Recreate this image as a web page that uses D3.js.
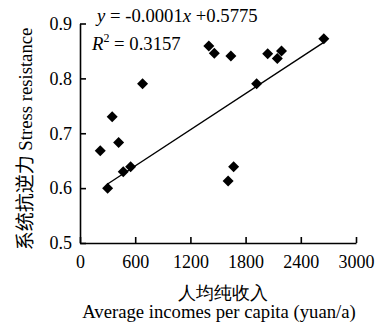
<!DOCTYPE html>
<html><head><meta charset="utf-8">
<script src="https://cdn.jsdelivr.net/npm/d3@7"></script>
<style>body{margin:0;background:#fff}svg{display:block}text{font-family:"Liberation Serif","Times New Roman",serif;fill:#000}</style>
</head><body>
<script>
const incomes = [220, 300, 350, 420, 470, 550, 680, 1400, 1460, 1640, 1610, 1670, 1920, 2040, 2145, 2190, 2650];
const resistance = [0.668, 0.600, 0.730, 0.683, 0.630, 0.639, 0.790, 0.859, 0.846, 0.841, 0.613, 0.639, 0.790, 0.845, 0.836, 0.850, 0.872];
const trendX = [300, 2645];
const trendY = [0.6075, 0.865];
const xTicks = [0, 600, 1200, 1800, 2400, 3000];
const yTicks = [0.5, 0.6, 0.7, 0.8, 0.9];
const r2Text = "0.3157";

const W = 382, H = 327;
const svg = d3.select("body").append("svg").attr("width", W).attr("height", H);
const x = d3.scaleLinear().domain([0, 3000]).range([80, 356]);
const y = d3.scaleLinear().domain([0.5, 0.9]).range([243, 23.5]);

const xAxis = svg.append("g").attr("transform", `translate(0,${y(0.5)})`)
  .call(d3.axisBottom(x).tickValues(xTicks).tickSizeInner(-6).tickSizeOuter(0).tickPadding(12).tickFormat(d3.format("d")));
const yAxis = svg.append("g").attr("transform", `translate(${x(0)},0)`)
  .call(d3.axisLeft(y).tickValues(yTicks).tickSizeInner(-6).tickSizeOuter(0).tickPadding(8).tickFormat(d3.format(".1f")));
[xAxis, yAxis].forEach(g => {
  g.select(".domain").attr("stroke", "#000").attr("stroke-width", 1.6);
  g.selectAll(".tick line").attr("stroke", "#000").attr("stroke-width", 1.6);
  g.selectAll(".tick text").attr("font-size", 18).attr("font-family", '"Liberation Serif",serif').attr("fill", "#000");
});

svg.append("line")
  .attr("x1", x(trendX[0])).attr("y1", y(trendY[0]))
  .attr("x2", x(trendX[1])).attr("y2", y(trendY[1]))
  .attr("stroke", "#000").attr("stroke-width", 1.4);

const s = 5.5;
svg.selectAll("path.pt").data(incomes.map((v, i) => [v, resistance[i]])).enter().append("path")
  .attr("class", "pt")
  .attr("d", d => `M${x(d[0])},${y(d[1]) - s}L${x(d[0]) + s},${y(d[1])}L${x(d[0])},${y(d[1]) + s}L${x(d[0]) - s},${y(d[1])}Z`)
  .attr("fill", "#000");

const eq = svg.append("text").attr("x", 97).attr("y", 22).attr("font-size", 18.7);
eq.append("tspan").attr("font-style", "italic").text("y");
eq.append("tspan").text(" = -0.0001");
eq.append("tspan").attr("font-style", "italic").text("x");
eq.append("tspan").text(" +0.5775");

const r2 = svg.append("text").attr("x", 92).attr("y", 49.5).attr("font-size", 18.7);
r2.append("tspan").attr("font-style", "italic").text("R");
r2.append("tspan").attr("font-size", 12).attr("dy", -8).text("2");
r2.append("tspan").attr("dy", 8).text(" = " + r2Text);

svg.append("text").attr("transform", "translate(32,139) rotate(-90)").attr("text-anchor", "middle").attr("font-size", 18.7)
  .html('<tspan font-family="Noto Sans CJK SC" font-size="19">系统抗逆力</tspan> Stress resistance');

svg.append("text").attr("x", 223).attr("y", 298.5).attr("text-anchor", "middle").attr("font-size", 18)
  .attr("font-family", "Noto Sans CJK SC").text("人均纯收入");
svg.append("text").attr("x", 219).attr("y", 318).attr("text-anchor", "middle").attr("font-size", 18.7)
  .text("Average incomes per capita (yuan/a)");
</script>
</body></html>
